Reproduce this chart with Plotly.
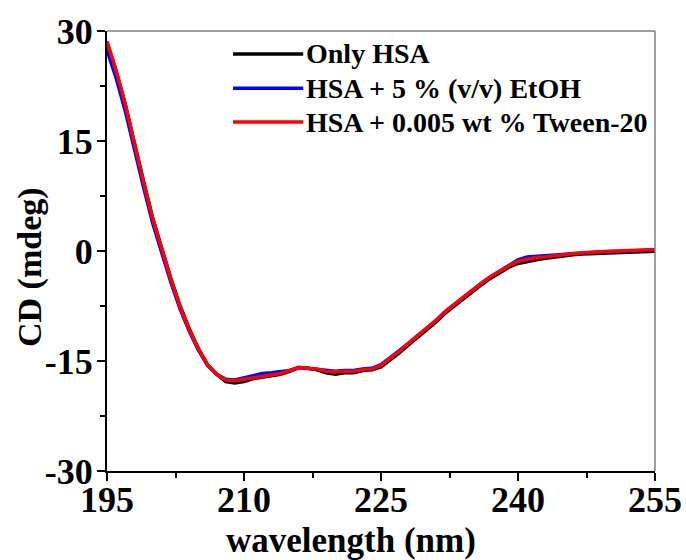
import plotly.graph_objects as go

wavelength = list(range(195, 256))

only_hsa = [28.4, 24.5, 20.0, 14.5, 9.5, 4.5, 0.2, -3.8, -7.5, -10.6,
            -13.3, -15.5, -16.8, -17.8, -18.0, -17.8, -17.4, -17.2, -17.0, -16.8,
            -16.4, -15.9, -16.0, -16.2, -16.6, -16.8, -16.6, -16.6, -16.3, -16.2,
            -15.8, -14.9, -13.9, -12.8, -11.8, -10.8, -9.7, -8.5, -7.5, -6.5,
            -5.6, -4.6, -3.7, -2.9, -2.2, -1.7, -1.4, -1.2, -1.0, -0.8,
            -0.6, -0.5, -0.4, -0.35, -0.3, -0.3, -0.25, -0.2, -0.2, -0.15, -0.05]

hsa_etoh = [27.4, 23.6, 19.1, 13.7, 8.7, 3.8, -0.4, -4.3, -7.9, -10.9,
            -13.5, -15.6, -16.8, -17.5, -17.6, -17.3, -16.9, -16.7, -16.6, -16.5,
            -16.3, -15.9, -16.0, -16.1, -16.3, -16.4, -16.3, -16.3, -16.1, -16.0,
            -15.5, -14.6, -13.6, -12.6, -11.6, -10.6, -9.5, -8.3, -7.3, -6.3,
            -5.4, -4.4, -3.5, -2.7, -1.9, -1.2, -0.8, -0.7, -0.6, -0.5,
            -0.4, -0.3, -0.25, -0.2, -0.15, -0.1, -0.05, 0.0, 0.05, 0.1, 0.15]

hsa_tween = [28.6, 24.6, 20.0, 14.5, 9.4, 4.4, 0.1, -3.9, -7.6, -10.7,
             -13.3, -15.5, -16.8, -17.6, -17.7, -17.5, -17.3, -17.1, -16.9, -16.7,
             -16.3, -15.9, -16.0, -16.1, -16.4, -16.5, -16.4, -16.4, -16.2, -16.1,
             -15.6, -14.7, -13.7, -12.6, -11.6, -10.6, -9.5, -8.3, -7.3, -6.3,
             -5.4, -4.4, -3.5, -2.7, -2.0, -1.4, -1.1, -0.9, -0.8, -0.6,
             -0.5, -0.35, -0.25, -0.2, -0.1, -0.05, 0.0, 0.05, 0.05, 0.1, 0.2]

series_names = ["Only HSA", "HSA + 5 % (v/v) EtOH", "HSA + 0.005 wt % Tween-20"]
series_values = [only_hsa, hsa_etoh, hsa_tween]
series_colors = ["#000000", "#0000ff", "#ff0000"]

x_ticks = [195, 210, 225, 240, 255]
x_tick_labels = ["195", "210", "225", "240", "255"]
y_ticks = [-30, -15, 0, 15, 30]
y_tick_labels = ["-30", "-15", "0", "15", "30"]

FONT = "Liberation Serif"

fig = go.Figure()
for name, vals, color in zip(series_names, series_values, series_colors):
    fig.add_trace(go.Scatter(x=wavelength, y=vals, mode="lines", name=name,
                             line=dict(color=color, width=3.5), showlegend=False))

axis_common = dict(showgrid=False, zeroline=False, showline=True, automargin=False,
                   linecolor="black", linewidth=2, ticks="outside",
                   ticklen=8, tickwidth=2, tickcolor="black",
                   tickfont=dict(family=FONT, size=36, color="black", weight="bold"),
                   minor=dict(ticks="outside", ticklen=5, tickwidth=2,
                              tickcolor="black", showgrid=False))

fig.update_xaxes(range=[195, 255], tickvals=x_ticks, ticktext=x_tick_labels,
                 minor_dtick=7.5, minor_tick0=195, ticklabelstandoff=-12,
                 **axis_common)
fig.update_yaxes(range=[-30, 30], tickvals=y_ticks, ticktext=y_tick_labels,
                 minor_dtick=7.5, minor_tick0=-30, ticklabelstandoff=-3,
                 **axis_common)

# axis titles
fig.add_annotation(xref="paper", yref="paper", x=0.445, y=-0.159,
                   text="wavelength (nm)", showarrow=False,
                   xanchor="center", yanchor="middle",
                   font=dict(family=FONT, size=35, color="black", weight="bold"))
fig.add_annotation(xref="paper", yref="paper", x=-0.1405, y=0.4636,
                   text="CD (mdeg)", showarrow=False, textangle=-90,
                   xanchor="center", yanchor="middle",
                   font=dict(family=FONT, size=34, color="black", weight="bold"))

# top / right frame in gray
fig.add_shape(type="line", xref="paper", yref="paper", x0=0, x1=1, y0=1, y1=1,
              line=dict(color="#7f7f7f", width=1.5))
fig.add_shape(type="line", xref="paper", yref="paper", x0=1, x1=1, y0=0, y1=1,
              line=dict(color="#7f7f7f", width=1.5))

# manual legend with long line samples
legend_y = [0.948, 0.870, 0.793]
for name, color, ly in zip(series_names, series_colors, legend_y):
    fig.add_shape(type="line", xref="paper", yref="paper", x0=0.23, x1=0.358,
                  y0=ly, y1=ly, line=dict(color=color, width=3.5))
    fig.add_annotation(xref="paper", yref="paper", x=0.36, y=ly, text=name,
                       showarrow=False, xanchor="left", yanchor="middle",
                       font=dict(family=FONT, size=28, color="black", weight="bold"))

fig.update_layout(
    width=686, height=560,
    margin=dict(l=107, r=31, t=31, b=89),
    plot_bgcolor="white", paper_bgcolor="white",
    font=dict(family=FONT, size=24, color="black"),
    showlegend=False,
)

fig.write_html("out.html")
